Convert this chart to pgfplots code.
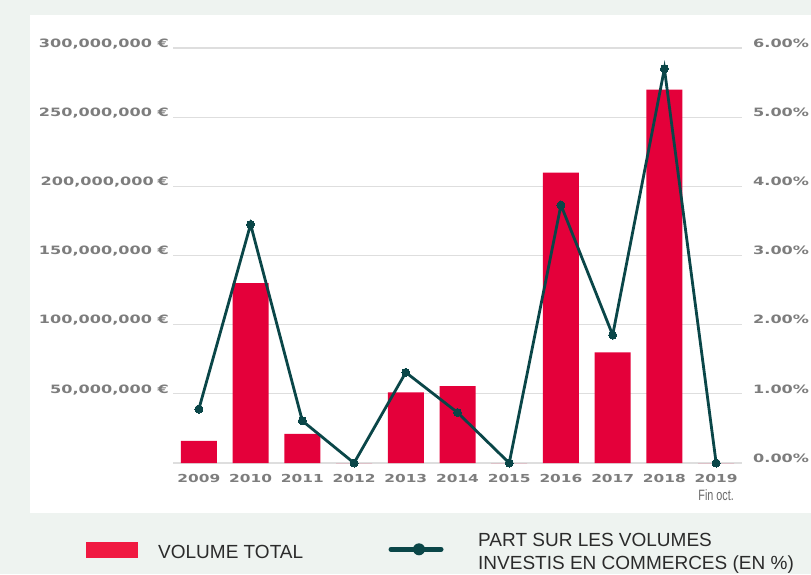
\documentclass[border=0pt]{standalone}
\usepackage{pgfplots}
\usepackage{pgfplotstable}
\pgfplotsset{compat=1.18}
\usepackage{fontspec}
\setmainfont{Liberation Sans}
\newfontfamily\tickfont[FakeStretch=1.4]{DejaVu Sans}
\newfontfamily\narrowfont[FakeStretch=0.72]{Liberation Sans}
\definecolor{bg}{RGB}{238,243,240}
\definecolor{barred}{RGB}{228,0,58}
\definecolor{legred}{RGB}{240,25,65}
\definecolor{tealc}{RGB}{10,70,72}
\definecolor{tickc}{RGB}{125,125,125}
\definecolor{gridc}{RGB}{222,222,222}
\definecolor{txt}{RGB}{43,43,43}

\pgfplotstableread{
x vol pct
0 16000000 0.78
1 130000000 3.45
2 21000000 0.61
3 0 0
4 51000000 1.31
5 55500000 0.73
6 0 0
7 210000000 3.73
8 80000000 1.85
9 270000000 5.70
10 0 0
}\data

\begin{document}
\begin{tikzpicture}
\fill[bg] (0,0) rectangle (811pt,-574pt);
\fill[white] (30pt,-15pt) rectangle (811pt,-513pt);
\begin{axis}[
  at={(173pt,-463pt)}, anchor=south west,
  scale only axis, width=569pt, height=415pt,
  xmin=-0.5, xmax=10.5, ymin=0, ymax=300000000,
  axis line style={draw=none}, major tick length=0pt,
  ymajorgrids, grid style={gridc, line width=1.2pt},
  ytick={0,50000000,100000000,150000000,200000000,250000000,300000000},
  yticklabels={{},{50,000,000 €},{100,000,000 €},{150,000,000 €},{200,000,000\,\,€},{250,000,000 €},{300,000,000 €}},
  yticklabel style={anchor=base east, inner sep=0pt, xshift=-4pt, yshift=0.7pt,
    font=\tickfont\bfseries\fontsize{11.5}{13}\selectfont, text=tickc},
  xtick={0,1,2,3,4,5,6,7,8,9,10},
  xticklabels={2009,2010,2011,2012,2013,2014,2015,2016,2017,2018,2019},
  xticklabel style={anchor=base, inner sep=0pt, yshift=-19pt,
    font=\tickfont\bfseries\fontsize{11}{13}\selectfont, text=tickc},
  scaled y ticks=false,
]
\addplot[ybar, bar width=36pt, fill=barred, draw=none] table[x=x,y=vol]{\data};
\end{axis}
\begin{axis}[
  at={(173pt,-463pt)}, anchor=south west,
  scale only axis, width=569pt, height=415pt,
  xmin=-0.5, xmax=10.5, ymin=0, ymax=6,
  axis line style={draw=none}, major tick length=0pt,
  xtick=\empty,
  ytick={0,1,2,3,4,5,6},
  yticklabels={0.00\%,1.00\%,2.00\%,3.00\%,4.00\%,5.00\%,6.00\%},
  yticklabel pos=right,
  yticklabel style={anchor=base west, inner sep=0pt, xshift=11pt, yshift=0.7pt,
    font=\tickfont\bfseries\fontsize{11.5}{13}\selectfont, text=tickc},
  clip=false,
]
\addplot[tealc, line width=2.8pt, mark=*, mark size=4pt, mark options={fill=tealc, draw=tealc, line width=0pt}] table[x=x,y=pct]{\data};
\node[anchor=base, inner sep=0pt, text=tickc!85!black, font=\narrowfont\fontsize{15}{16}\selectfont, yshift=-37pt] at (axis cs:10,0) {Fin oct.};
\end{axis}
\fill[legred] (86pt,-541.7pt) rectangle (137.7pt,-557.7pt);
\node[anchor=base west, inner sep=0pt, text=txt, font=\fontsize{19}{26}\selectfont] at (158pt,-558.3pt) {VOLUME TOTAL};
\draw[tealc, line width=5pt, line cap=round] (391pt,-549.3pt) -- (441pt,-549.3pt);
\fill[tealc] (419pt,-549.3pt) circle (6pt);
\node[anchor=base west, inner sep=0pt, text=txt, font=\fontsize{19}{26}\selectfont] at (478pt,-546pt) {PART SUR LES VOLUMES};
\node[anchor=base west, inner sep=0pt, text=txt, font=\fontsize{19}{26}\selectfont] at (478pt,-569pt) {INVESTIS EN COMMERCES (EN \%)};
\pgfresetboundingbox
\useasboundingbox (0,0) rectangle (811pt,-574pt);
\end{tikzpicture}
\end{document}
